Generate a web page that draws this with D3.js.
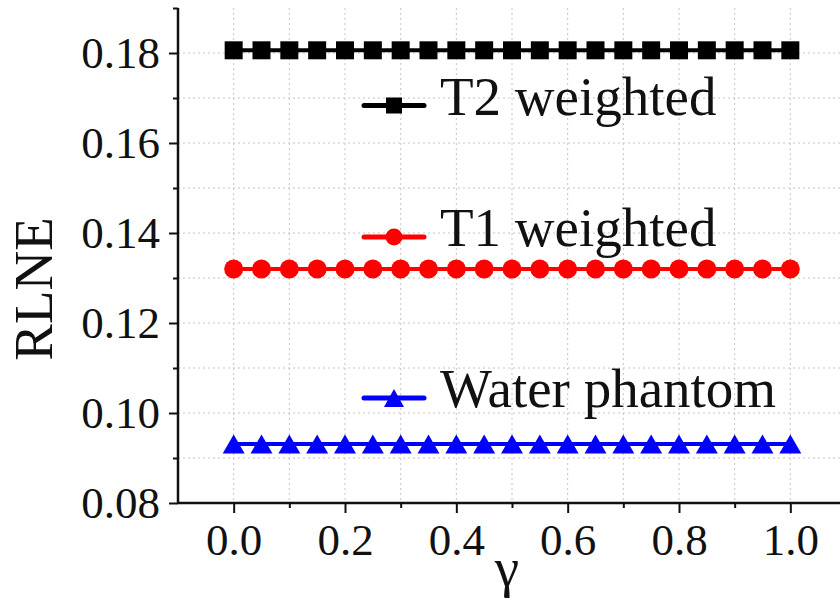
<!DOCTYPE html>
<html>
<head>
<meta charset="utf-8">
<script src="https://cdn.jsdelivr.net/npm/d3@7"></script>
<style>
  body { margin: 0; background: #fff; }
  svg text { font-family: "Liberation Serif", "Times New Roman", "DejaVu Serif", serif !important; }
</style>
</head>
<body>
<svg width="840" height="609"></svg>
<script>
// data
var gamma = [0, 0.05, 0.1, 0.15, 0.2, 0.25, 0.3, 0.35, 0.4, 0.45, 0.5, 0.55, 0.6, 0.65, 0.7, 0.75, 0.8, 0.85, 0.9, 0.95, 1.0];
var t2 = [0.1806, 0.1806, 0.1806, 0.1806, 0.1806, 0.1806, 0.1806, 0.1806, 0.1806, 0.1806, 0.1806, 0.1806, 0.1806, 0.1806, 0.1806, 0.1806, 0.1806, 0.1806, 0.1806, 0.1806, 0.1806];
var t1 = [0.1320, 0.1320, 0.1320, 0.1320, 0.1320, 0.1320, 0.1320, 0.1320, 0.1320, 0.1320, 0.1320, 0.1320, 0.1320, 0.1320, 0.1320, 0.1320, 0.1320, 0.1320, 0.1320, 0.1320, 0.1320];
var water = [0.0931, 0.0931, 0.0931, 0.0931, 0.0931, 0.0931, 0.0931, 0.0931, 0.0931, 0.0931, 0.0931, 0.0931, 0.0931, 0.0931, 0.0931, 0.0931, 0.0931, 0.0931, 0.0931, 0.0931, 0.0931];
var seriesNames = ['T2 weighted', 'T1 weighted', 'Water phantom'];
var xTicks = [0, 0.2, 0.4, 0.6, 0.8, 1.0];
var xMinor = [0.1, 0.3, 0.5, 0.7, 0.9];
var yTicks = [0.08, 0.10, 0.12, 0.14, 0.16, 0.18];
var yMinor = [0.09, 0.11, 0.13, 0.15, 0.17, 0.19];

var svg = d3.select('svg');
var x = d3.scaleLinear().domain([-0.1, 1.1]).range([178, 846]);
var y = d3.scaleLinear().domain([0.08, 0.19]).range([503, 8]);

// dotted grid
var grid = svg.append('g').attr('stroke', '#c4c4c4').attr('stroke-width', 1).attr('stroke-dasharray', '2,3');
xTicks.concat(xMinor).forEach(function (v) {
  grid.append('line').attr('x1', x(v)).attr('x2', x(v)).attr('y1', 8).attr('y2', 503);
});
yTicks.concat(yMinor).filter(function (v) { return v > 0.08 && v < 0.19; }).forEach(function (v) {
  grid.append('line').attr('x1', 178).attr('x2', 840).attr('y1', y(v)).attr('y2', y(v));
});

// axes
var xAxis = svg.append('g').attr('transform', 'translate(0,503)')
  .call(d3.axisBottom(x).tickValues(xTicks).tickFormat(d3.format('.1f')).tickSize(10).tickPadding(10));
svg.append('g').attr('transform', 'translate(0,503)')
  .call(d3.axisBottom(x).tickValues(xMinor).tickFormat('').tickSize(5))
  .select('.domain').remove();
var yAxis = svg.append('g').attr('transform', 'translate(178,0)')
  .call(d3.axisLeft(y).tickValues(yTicks).tickFormat(d3.format('.2f')).tickSize(9).tickPadding(9));
svg.append('g').attr('transform', 'translate(178,0)')
  .call(d3.axisLeft(y).tickValues(yMinor).tickFormat('').tickSize(5))
  .select('.domain').remove();

svg.selectAll('.domain').attr('stroke', '#111').attr('stroke-width', 2.5);
svg.selectAll('.tick line').attr('stroke', '#111').attr('stroke-width', 2);
xAxis.select('.domain').attr('d', 'M178,0H840');
yAxis.select('.domain').attr('d', 'M0,8V503');
svg.selectAll('.tick text').attr('font-size', 45).attr('fill', '#111');
xAxis.selectAll('.tick text').attr('dy', '0.71em');

// axis titles
svg.append('text').attr('transform', 'translate(52,289) rotate(-90)')
  .attr('text-anchor', 'middle').attr('font-size', 55).attr('fill', '#111').text('RLNE');
svg.append('text').attr('x', 507).attr('y', 586)
  .attr('text-anchor', 'middle').attr('font-size', 55).attr('fill', '#111').text('γ');

var line = d3.line().x(function (d) { return x(d[0]); }).y(function (d) { return y(d[1]); });
function pts(vals) { return gamma.map(function (g, i) { return [g, vals[i]]; }); }

var sq = d3.symbol().type(d3.symbolSquare).size(18 * 18);
var ci = d3.symbol().type(d3.symbolCircle).size(Math.PI * 9.5 * 9.5);
function tri(w, h) { return 'M0,' + (-h / 2) + 'L' + (w / 2) + ',' + (h / 2) + 'L' + (-w / 2) + ',' + (h / 2) + 'Z'; }

var series = [
  { vals: t2, color: '#000', marker: sq(), legY: 105.5, legMarker: d3.symbol().type(d3.symbolSquare).size(16 * 16)() },
  { vals: t1, color: '#ff0000', marker: ci(), legY: 237, legMarker: d3.symbol().type(d3.symbolCircle).size(Math.PI * 8.5 * 8.5)() },
  { vals: water, color: '#0000ff', marker: tri(22, 19), legY: 398, legMarker: tri(20, 18) }
];

series.forEach(function (s, k) {
  var g = svg.append('g');
  g.append('path').attr('d', line(pts(s.vals))).attr('fill', 'none')
    .attr('stroke', s.color).attr('stroke-width', 4);
  g.selectAll('path.m').data(pts(s.vals)).enter().append('path').attr('class', 'm')
    .attr('transform', function (d) { return 'translate(' + x(d[0]) + ',' + y(d[1]) + ')'; })
    .attr('d', s.marker).attr('fill', s.color);

  // legend entry
  var lg = svg.append('g');
  lg.append('line').attr('x1', 364).attr('x2', 424).attr('y1', s.legY).attr('y2', s.legY)
    .attr('stroke', s.color).attr('stroke-width', 5).attr('stroke-linecap', 'round');
  lg.append('path').attr('transform', 'translate(394,' + s.legY + ')').attr('d', s.legMarker).attr('fill', s.color);
  lg.append('text').attr('x', 440).attr('y', s.legY + 9).attr('font-size', 55).attr('fill', '#111').text(seriesNames[k]);
});
</script>
</body>
</html>
